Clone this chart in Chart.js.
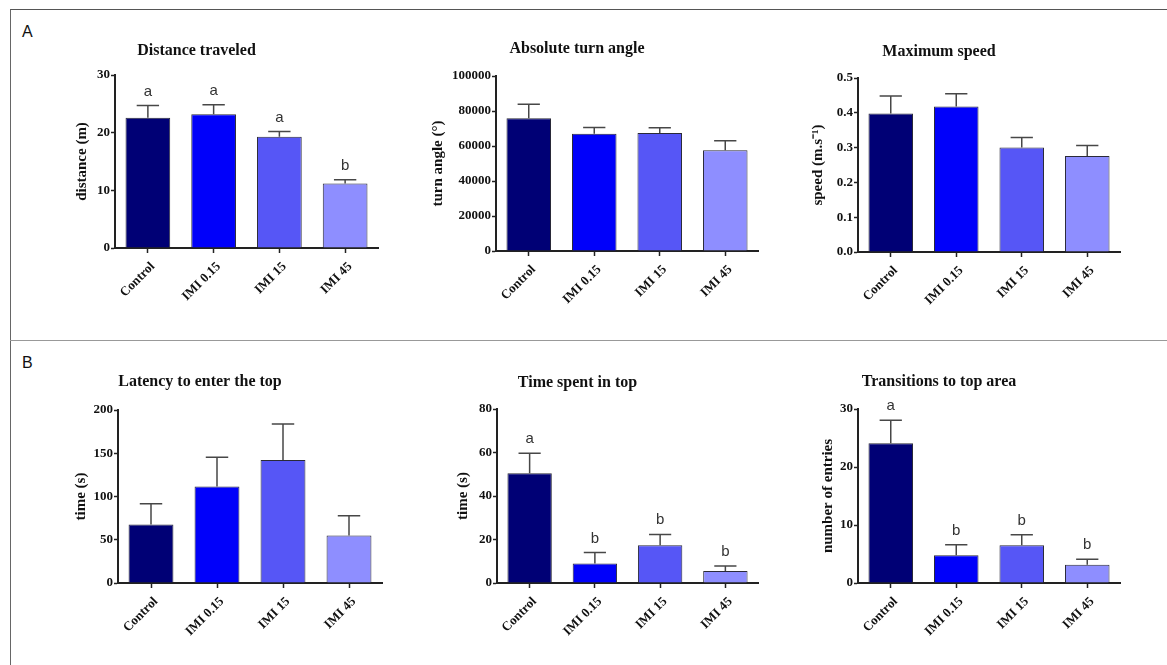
<!DOCTYPE html>
<html>
<head>
<meta charset="utf-8">
<script src="https://cdn.jsdelivr.net/npm/chart.js@4/dist/chart.umd.min.js"></script>
<style>
  html, body { margin:0; padding:0; background:#fff; }
  body { width:1167px; height:665px; position:relative; overflow:hidden; font-family:'Liberation Sans', Arial, sans-serif; }
  .frame { position:absolute; left:10px; top:9px; width:1200px; height:700px; border-left:1.5px solid #666; border-top:1.5px solid #555; }
  .divider { position:absolute; left:10px; top:340px; width:1200px; height:0; border-top:1px solid #999; }
  .plabel { position:absolute; font-size:16px; line-height:16px; color:#111; }
  canvas { position:absolute; }
</style>
</head>
<body>
<div class="frame"></div>
<div class="divider"></div>
<div class="plabel" style="left:22px; top:24px;">A</div>
<div class="plabel" style="left:22px; top:355px;">B</div>

<canvas id="c1"></canvas>
<canvas id="c2"></canvas>
<canvas id="c3"></canvas>
<canvas id="c4"></canvas>
<canvas id="c5"></canvas>
<canvas id="c6"></canvas>

<script>
// ---------- DATA ----------
const categories = ['Control', 'IMI 0.15', 'IMI 15', 'IMI 45'];
const barColors = ['#000075', '#0000fa', '#5656f6', '#8e8eff'];

const distance = [22.6, 23.2, 19.3, 11.2];
const distanceErr = [2.1, 1.65, 0.9, 0.65];
const distanceLetters = ['a', 'a', 'a', 'b'];

const turnAngle = [75800, 67000, 67400, 57600];
const turnAngleErr = [8000, 3600, 3000, 5400];

const maxSpeed = [0.398, 0.418, 0.300, 0.276];
const maxSpeedErr = [0.050, 0.037, 0.029, 0.030];

const latency = [67.6, 111.5, 142.3, 54.9];
const latencyErr = [23.9, 33.9, 41.5, 22.8];

const timeTop = [50.5, 9.0, 17.4, 5.5];
const timeTopErr = [9.2, 5.0, 4.9, 2.3];
const timeTopLetters = ['a', 'b', 'b', 'b'];

const transitions = [24.1, 4.8, 6.5, 3.15];
const transitionsErr = [3.95, 1.8, 1.8, 0.95];
const transitionsLetters = ['a', 'b', 'b', 'b'];

// ---------- PLUGIN: error bars + letters ----------
const errorBarPlugin = {
  id: 'errorBars',
  afterDatasetsDraw(chart, args, opts) {
    const ctx = chart.ctx;
    const yScale = chart.scales.y;
    const meta = chart.getDatasetMeta(0);
    const vals = chart.data.datasets[0].data;
    const errs = opts.errors || [];
    const letters = opts.letters || [];
    meta.data.forEach((bar, i) => {
      const top = yScale.getPixelForValue(vals[i] + errs[i]);
      const half = bar.width / 4;
      ctx.save();
      ctx.strokeStyle = '#474747';
      ctx.lineWidth = 1.5;
      ctx.beginPath();
      ctx.moveTo(bar.x, bar.y);
      ctx.lineTo(bar.x, top);
      ctx.moveTo(bar.x - half, top);
      ctx.lineTo(bar.x + half, top);
      ctx.stroke();
      if (letters[i]) {
        ctx.fillStyle = '#333';
        ctx.font = '15px "Liberation Sans", Arial, sans-serif';
        ctx.textAlign = 'center';
        ctx.textBaseline = 'alphabetic';
        ctx.fillText(letters[i], bar.x, top - 10);
      }
      ctx.restore();
    });
  }
};

const SERIF = '"Liberation Serif", "Times New Roman", serif';

function makeChart(id, o) {
  const yW = 100, padR = 15, xH = 80;
  const CL = o.area.l - yW;
  const CT = o.titleY - 20;
  const W = o.area.r - CL + padR;
  const H = o.area.b - CT + xH;
  const cv = document.getElementById(id);
  cv.style.left = CL + 'px';
  cv.style.top = CT + 'px';
  cv.width = W; cv.height = H;
  cv.style.width = W + 'px'; cv.style.height = H + 'px';
  const tLine = 16 * 1.2;
  const tPadTop = 20 - tLine / 2;
  const tPadBottom = (o.area.t - CT) - tPadTop - tLine;
  const yTitlePad = o.yTitleX - CL - 9;

  new Chart(cv, {
    type: 'bar',
    data: {
      labels: categories,
      datasets: [{
        data: o.values,
        backgroundColor: barColors,
        borderColor: '#2a2a38',
        borderWidth: 1,
        barPercentage: 0.68,
        categoryPercentage: 1.0
      }]
    },
    options: {
      responsive: false,
      animation: false,
      devicePixelRatio: 1,
      layout: { padding: { left: 0, right: padR, top: 0, bottom: 0 } },
      plugins: {
        legend: { display: false },
        tooltip: { enabled: false },
        title: {
          display: true,
          text: o.title,
          color: '#111',
          font: { family: SERIF, size: 16, weight: 'bold' },
          padding: { top: tPadTop, bottom: tPadBottom }
        },
        errorBars: { errors: o.errors, letters: o.letters }
      },
      scales: {
        x: {
          grid: { display: true, drawOnChartArea: false, drawTicks: true, tickLength: 5, tickWidth: 1.5, tickColor: '#222', offset: false },
          border: { display: true, color: '#222', width: 2 },
          ticks: { color: '#111', font: { family: SERIF, size: 13, weight: 'bold' }, maxRotation: 45, minRotation: 45, padding: 6, labelOffset: 5 },
          afterFit: s => { s.height = xH; }
        },
        y: {
          min: 0, max: o.max,
          ticks: {
            stepSize: o.step,
            color: '#111',
            font: { family: SERIF, size: 13, weight: 'bold' },
            padding: 1,
            callback: v => o.decimals ? Number(v).toFixed(o.decimals) : String(v)
          },
          grid: { display: true, drawOnChartArea: false, drawTicks: true, tickLength: 4, tickWidth: 1.5, tickColor: '#222' },
          border: { display: true, color: '#222', width: 2 },
          title: {
            display: true, text: o.yTitle, color: '#111',
            font: { family: SERIF, size: 15, weight: 'bold' },
            padding: { top: yTitlePad, bottom: 0 }
          },
          afterFit: s => { s.width = yW; }
        }
      }
    },
    plugins: [errorBarPlugin]
  });
}

makeChart('c1', { area: { l: 115, r: 378, t: 75, b: 248 }, titleY: 51, yTitleX: 82,
  title: 'Distance traveled', yTitle: 'distance (m)', max: 30, step: 10,
  values: distance, errors: distanceErr, letters: distanceLetters });

makeChart('c2', { area: { l: 496, r: 758, t: 76, b: 251 }, titleY: 49, yTitleX: 438,
  title: 'Absolute turn angle', yTitle: 'turn angle (°)', max: 100000, step: 20000,
  values: turnAngle, errors: turnAngleErr });

makeChart('c3', { area: { l: 858, r: 1120, t: 78, b: 252 }, titleY: 52, yTitleX: 818,
  title: 'Maximum speed', yTitle: 'speed (m.s⁻¹)', max: 0.5, step: 0.1, decimals: 1,
  values: maxSpeed, errors: maxSpeedErr });

makeChart('c4', { area: { l: 118, r: 382, t: 410, b: 583 }, titleY: 382, yTitleX: 81,
  title: 'Latency to enter the top', yTitle: 'time (s)', max: 200, step: 50,
  values: latency, errors: latencyErr });

makeChart('c5', { area: { l: 497, r: 758, t: 409, b: 583 }, titleY: 383, yTitleX: 463,
  title: 'Time spent in top', yTitle: 'time (s)', max: 80, step: 20,
  values: timeTop, errors: timeTopErr, letters: timeTopLetters });

makeChart('c6', { area: { l: 858, r: 1120, t: 409, b: 583 }, titleY: 382, yTitleX: 828,
  title: 'Transitions to top area', yTitle: 'number of entries', max: 30, step: 10,
  values: transitions, errors: transitionsErr, letters: transitionsLetters });
</script>
</body>
</html>
